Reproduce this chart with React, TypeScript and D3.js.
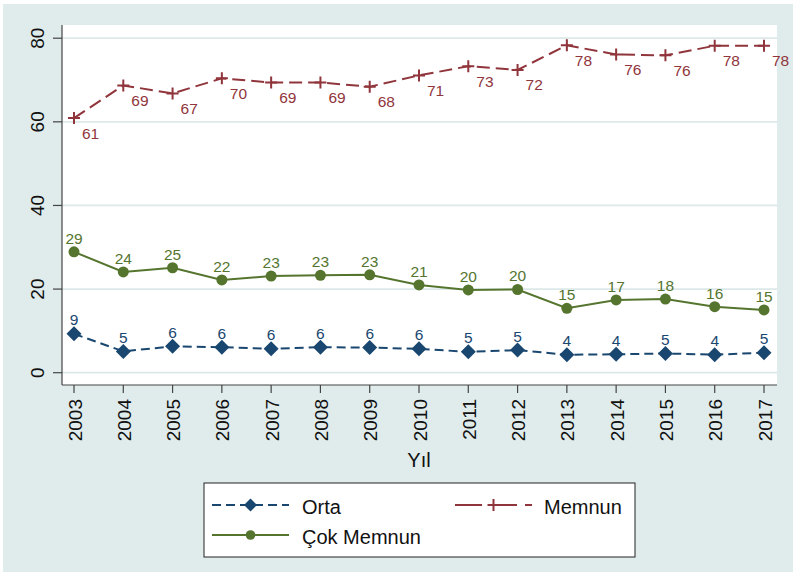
import React from "react";
import * as d3 from "d3";

const years = [2003, 2004, 2005, 2006, 2007, 2008, 2009, 2010, 2011, 2012, 2013, 2014, 2015, 2016, 2017];
const orta = [9.3, 5.1, 6.3, 6.1, 5.7, 6.1, 6.0, 5.7, 5.0, 5.4, 4.3, 4.4, 4.6, 4.3, 4.8];
const ortaLabels = [9, 5, 6, 6, 6, 6, 6, 6, 5, 5, 4, 4, 5, 4, 5];
const memnun = [60.9, 68.7, 66.8, 70.4, 69.4, 69.4, 68.4, 71.1, 73.3, 72.4, 78.3, 76.1, 75.9, 78.2, 78.2];
const memnunLabels = [61, 69, 67, 70, 69, 69, 68, 71, 73, 72, 78, 76, 76, 78, 78];
const cokMemnun = [28.9, 24.1, 25.1, 22.2, 23.1, 23.3, 23.4, 21.0, 19.8, 19.9, 15.4, 17.4, 17.6, 15.8, 15.0];
const cokMemnunLabels = [29, 24, 25, 22, 23, 23, 23, 21, 20, 20, 15, 17, 18, 16, 15];
const yTicks = [0, 20, 40, 60, 80];

const W = 793;
const H = 572;
const FONT = "'Liberation Sans', Arial, Helvetica, sans-serif";
const NAVY = "#1a476f";
const MAROON = "#90353b";
const GREEN = "#55752f";
const BG = "#e0ebeb";
const GRID = "#dde8e8";
const AXIS = "#444";

const plot = { x0: 62, x1: 777, y0: 25, y1: 385 };

export default function App() {
  const x = d3.scaleLinear().domain([2003, 2017]).range([74, 764]);
  const y = d3.scaleLinear().domain([0, 80]).range([372.7, 38.2]);

  const mk = (vals: number[]) =>
    d3
      .line<number>()
      .x((_, i) => x(years[i]))
      .y((d) => y(d))(vals) || "";

  const diamond = (cx: number, cy: number, r: number) =>
    `M${cx},${cy - r}L${cx + r},${cy}L${cx},${cy + r}L${cx - r},${cy}Z`;
  const plus = (cx: number, cy: number, r: number) =>
    `M${cx - r},${cy}L${cx + r},${cy}M${cx},${cy - r}L${cx},${cy + r}`;

  return (
    <svg
      width={W}
      height={H}
      style={{ position: "absolute", left: 0, top: 0, display: "block" }}
      fontFamily={FONT}
    >
      <rect x={0} y={0} width={W} height={H} fill="#ffffff" />
      <rect x={3} y={4} width={W - 3} height={H - 4} fill={BG} />
      <rect x={plot.x0} y={plot.y0} width={plot.x1 - plot.x0} height={plot.y1 - plot.y0} fill="#ffffff" />

      {/* gridlines */}
      {yTicks.map((t) => (
        <line key={"g" + t} x1={plot.x0} x2={plot.x1} y1={y(t)} y2={y(t)} stroke={GRID} strokeWidth={1.8} />
      ))}

      {/* axes */}
      <line x1={plot.x0} x2={plot.x0} y1={plot.y0} y2={plot.y1} stroke={AXIS} strokeWidth={1.2} />
      <line x1={plot.x0} x2={plot.x1} y1={plot.y1} y2={plot.y1} stroke={AXIS} strokeWidth={1.2} />
      {yTicks.map((t) => (
        <g key={"yt" + t}>
          <line x1={53} x2={plot.x0} y1={y(t)} y2={y(t)} stroke={AXIS} strokeWidth={1.2} />
          <text
            transform={`translate(44,${y(t)}) rotate(-90)`}
            textAnchor="middle"
            fontSize={19}
            fill="#111"
          >
            {t}
          </text>
        </g>
      ))}
      {years.map((yr) => (
        <g key={"xt" + yr}>
          <line x1={x(yr)} x2={x(yr)} y1={plot.y1} y2={393} stroke={AXIS} strokeWidth={1.2} />
          <text
            transform={`translate(${x(yr) + 7.5},399) rotate(-90)`}
            textAnchor="end"
            fontSize={19}
            fill="#111"
          >
            {yr}
          </text>
        </g>
      ))}
      <text x={419} y={467} textAnchor="middle" fontSize={20} fill="#111">
        Yıl
      </text>

      {/* Memnun */}
      <path d={mk(memnun)} fill="none" stroke={MAROON} strokeWidth={2} strokeDasharray="13,6" />
      {memnun.map((v, i) => (
        <path key={"mm" + i} d={plus(x(years[i]), y(v), 6)} stroke={MAROON} strokeWidth={2} fill="none" />
      ))}
      {memnun.map((v, i) => (
        <text key={"ml" + i} x={x(years[i]) + 8} y={y(v) + 20.5} fontSize={15.5} fill={MAROON}>
          {memnunLabels[i]}
        </text>
      ))}

      {/* Çok Memnun */}
      <path d={mk(cokMemnun)} fill="none" stroke={GREEN} strokeWidth={2} />
      {cokMemnun.map((v, i) => (
        <circle key={"cm" + i} cx={x(years[i])} cy={y(v)} r={5.5} fill={GREEN} />
      ))}
      {cokMemnun.map((v, i) => (
        <text key={"cl" + i} x={x(years[i])} y={y(v) - 8} textAnchor="middle" fontSize={15.5} fill={GREEN}>
          {cokMemnunLabels[i]}
        </text>
      ))}

      {/* Orta */}
      <path d={mk(orta)} fill="none" stroke={NAVY} strokeWidth={2} strokeDasharray="9,5" />
      {orta.map((v, i) => (
        <path key={"om" + i} d={diamond(x(years[i]), y(v), 7.5)} fill={NAVY} />
      ))}
      {orta.map((v, i) => (
        <text key={"ol" + i} x={x(years[i])} y={y(v) - 8.5} textAnchor="middle" fontSize={15.5} fill={NAVY}>
          {ortaLabels[i]}
        </text>
      ))}

      {/* legend */}
      <rect x={204} y={483} width={431} height={74} fill="#ffffff" stroke="#222" strokeWidth={1} />
      <line x1={212} x2={289} y1={505} y2={505} stroke={NAVY} strokeWidth={2} strokeDasharray="9,5" />
      <path d={diamond(250.5, 505, 6.5)} fill={NAVY} />
      <text x={302} y={514} fontSize={20} fill="#111">Orta</text>
      <line x1={455} x2={532} y1={505} y2={505} stroke={MAROON} strokeWidth={2} strokeDasharray="27,8" />
      <path d={plus(493.5, 505, 6)} stroke={MAROON} strokeWidth={2} fill="none" />
      <text x={544} y={514} fontSize={20} fill="#111">Memnun</text>
      <line x1={212} x2={289} y1={535} y2={535} stroke={GREEN} strokeWidth={2} />
      <circle cx={250.5} cy={535} r={4.8} fill={GREEN} />
      <text x={302} y={544} fontSize={20} fill="#111">Çok Memnun</text>
    </svg>
  );
}
